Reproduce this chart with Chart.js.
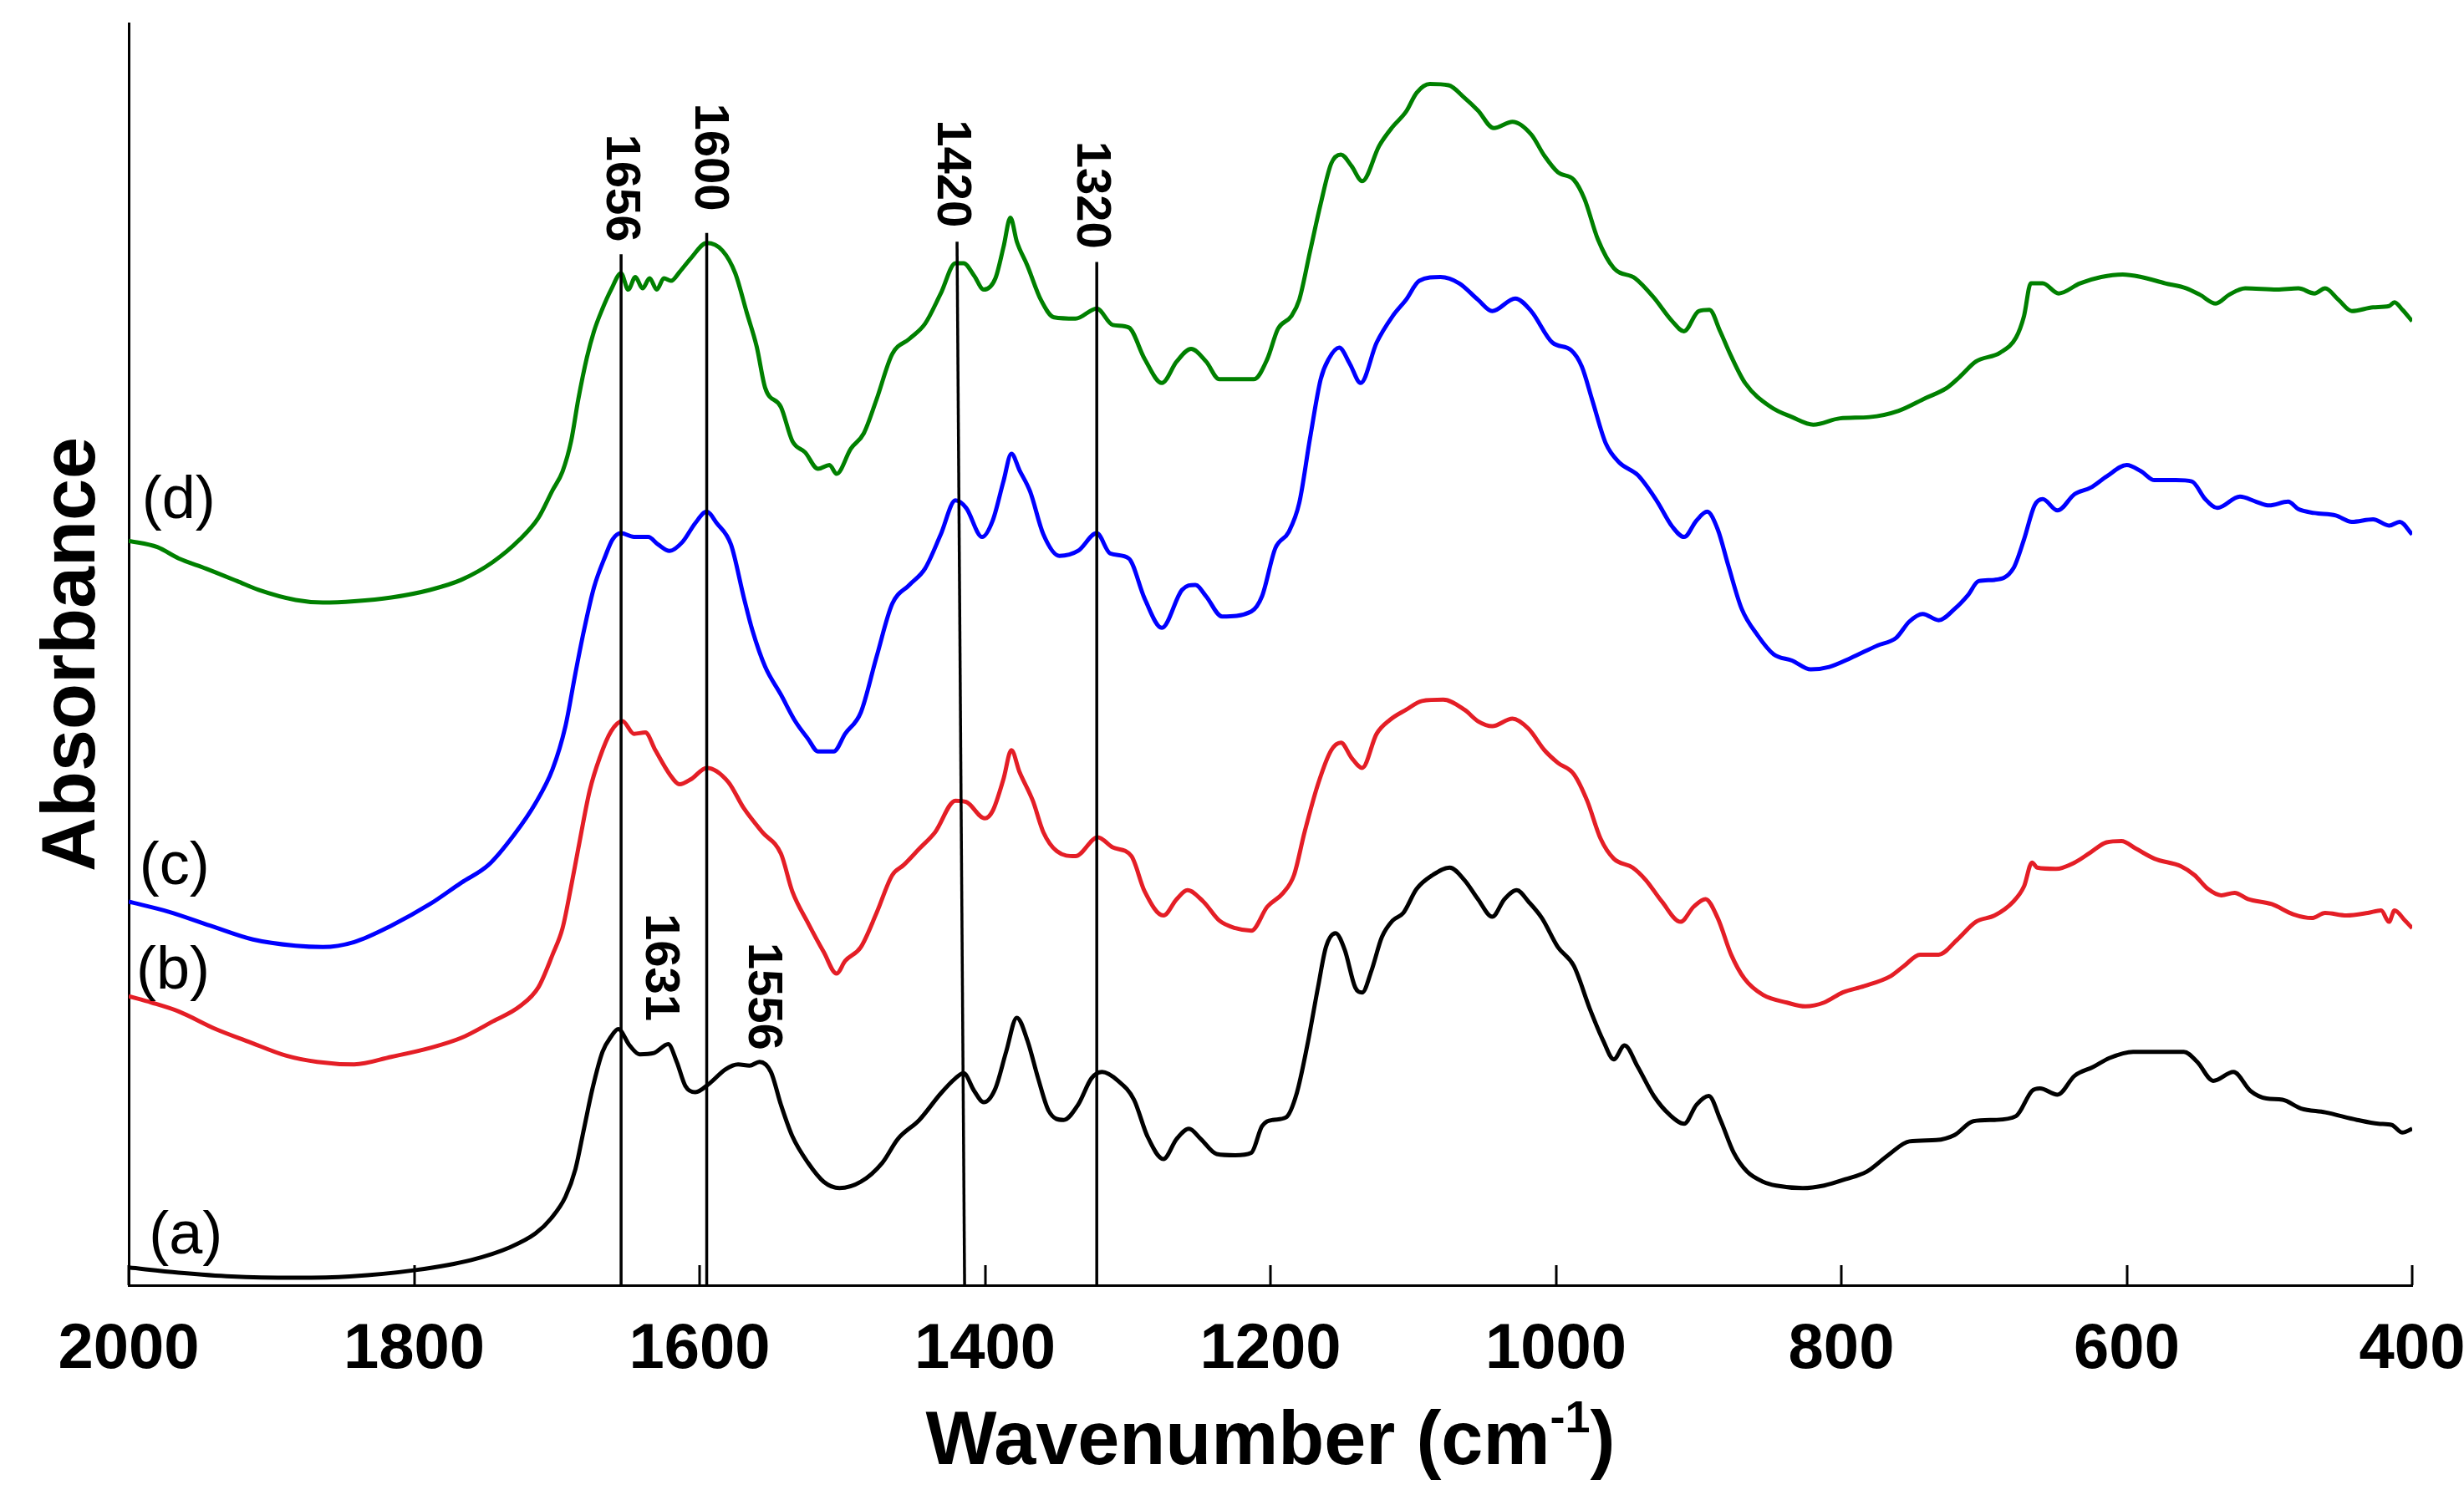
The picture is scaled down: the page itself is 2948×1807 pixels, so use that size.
<!DOCTYPE html>
<html>
<head>
<meta charset="utf-8">
<title>FTIR spectra (a)-(d)</title>
<script src="https://cdn.jsdelivr.net/npm/chart.js@4.4.1/dist/chart.umd.min.js"></script>
<style>
html,body{margin:0;padding:0;background:#fff;}
canvas{display:block;}
</style>
</head>
<body>
<canvas id="chart" width="2948" height="1807"></canvas>
<script>
const FONT = "'Liberation Sans', Arial, Helvetica, sans-serif";

// x axis ticks (wavenumber, cm-1)
const xTicks = [400, 600, 800, 1000, 1200, 1400, 1600, 1800, 2000];

// spectrum (a) - black
const wnA = [2000,1965,1928,1883,1845,1799,1760,1733,1715,1704,1694,1687,1681,1675,1668,1662,1657,1649,1642,1632,1622,1616,1610,1603,1593,1582,1573,1565,1558,1550,1543,1535,1524,1513,1502,1487,1472,1461,1446,1431,1420.7,1415,1407.6,1400.9,1392.7,1385.2,1377.7,1370.3,1362.8,1355.3,1344.9,1334.8,1325.4,1318,1306.8,1295.6,1286.2,1275,1265.7,1257.1,1248.9,1237.7,1224.6,1213.4,1205.9,1198.4,1189.1,1181.6,1174.2,1166.7,1161.1,1154.4,1148,1140.6,1135.7,1129.3,1121.9,1114.4,1106.9,1097.6,1086.4,1074.4,1064,1054.6,1044.6,1036,1027.4,1019.2,1009.8,998.6,987.4,976.2,966.9,959.4,951.9,942.6,931.4,920.2,910.1,901.5,892.9,884.7,875.4,866,854.8,845.7,827,812.1,797.1,782.2,767.3,752.3,733.6,720.6,707.5,692.6,677.6,666.4,660.8,648.5,636.5,623.5,612.3,595.5,576.8,560,550.6,539.4,525.2,513.3,502.1,490.9,477.8,460.9,438.6,423.7,414.3,406.8,400];
const absA = [0.014,0.010,0.007,0.006,0.007,0.012,0.020,0.030,0.041,0.053,0.070,0.092,0.124,0.156,0.185,0.197,0.203,0.190,0.183,0.184,0.191,0.177,0.158,0.153,0.160,0.171,0.175,0.174,0.177,0.169,0.143,0.118,0.097,0.082,0.077,0.082,0.097,0.116,0.131,0.152,0.164,0.168,0.154,0.145,0.156,0.185,0.212,0.194,0.164,0.138,0.131,0.143,0.164,0.169,0.162,0.147,0.118,0.100,0.116,0.124,0.116,0.104,0.103,0.105,0.126,0.131,0.133,0.152,0.190,0.236,0.268,0.279,0.266,0.236,0.232,0.249,0.276,0.289,0.295,0.314,0.325,0.331,0.321,0.306,0.292,0.306,0.313,0.304,0.291,0.268,0.253,0.219,0.194,0.179,0.190,0.173,0.150,0.135,0.128,0.143,0.150,0.131,0.105,0.090,0.082,0.079,0.077,0.079,0.084,0.090,0.103,0.114,0.115,0.119,0.130,0.131,0.134,0.154,0.156,0.151,0.166,0.173,0.180,0.185,0.185,0.185,0.177,0.162,0.169,0.154,0.148,0.147,0.140,0.137,0.131,0.128,0.127,0.121,0.124];

// spectrum (b) - red
const wnB = [2000,1984,1965,1939,1916,1890,1868,1842,1816,1789,1767,1745,1726,1713,1703,1696,1690,1685,1677,1670,1662,1654,1646,1638,1631,1621,1614,1606,1595,1580,1569,1556,1543,1535,1524,1513,1504,1498,1487,1476,1465,1457,1446,1435,1420.7,1413.2,1400.1,1394.6,1387.1,1381.5,1375.9,1366.5,1359.1,1349.7,1336.6,1321,1310.5,1297.4,1288.1,1275,1265.7,1258.2,1247,1235.8,1224.6,1213.4,1202.2,1191,1183.5,1176.1,1166.7,1157.4,1150.6,1143.2,1135.7,1125.6,1116.3,1105,1093.8,1078.9,1064,1054.6,1044.6,1030.4,1019.2,1008,998.6,987.4,978.1,968.7,959.4,946.2,936.9,925.7,912.7,903.4,895.2,886.6,877.2,867.9,854.8,838.2,825.2,812.1,799,784.1,765.4,756.1,744.9,731.8,718.7,705.7,692.6,679.5,672,666.4,662.7,649.6,636.5,625.4,614.1,603.7,593.6,580.5,561.9,552.5,543.1,533.8,524.4,515.1,498.4,483.4,470.3,461,446,431.1,421.8,416.2,412.4,405.1,400];
const absB = [0.229,0.224,0.217,0.203,0.193,0.182,0.177,0.175,0.181,0.188,0.196,0.209,0.221,0.236,0.262,0.283,0.316,0.346,0.392,0.418,0.439,0.447,0.437,0.438,0.424,0.405,0.397,0.401,0.410,0.399,0.378,0.359,0.342,0.312,0.287,0.264,0.247,0.257,0.268,0.295,0.325,0.333,0.346,0.359,0.384,0.383,0.370,0.376,0.401,0.424,0.407,0.384,0.359,0.344,0.340,0.355,0.347,0.340,0.312,0.293,0.306,0.313,0.304,0.289,0.283,0.281,0.300,0.311,0.325,0.359,0.397,0.424,0.430,0.418,0.410,0.437,0.448,0.456,0.463,0.464,0.456,0.447,0.443,0.449,0.441,0.424,0.414,0.405,0.384,0.354,0.338,0.331,0.321,0.304,0.288,0.300,0.306,0.291,0.262,0.243,0.230,0.224,0.221,0.224,0.232,0.237,0.245,0.253,0.262,0.262,0.274,0.288,0.293,0.304,0.316,0.335,0.331,0.330,0.335,0.343,0.351,0.352,0.346,0.338,0.332,0.325,0.314,0.309,0.311,0.306,0.302,0.294,0.291,0.295,0.293,0.295,0.297,0.288,0.297,0.289,0.283];

// spectrum (c) - blue
const wnC = [2000,1972,1943,1913,1883,1864,1842,1816,1789,1767,1748,1730,1715,1703,1694,1687,1681,1674,1666,1661,1655,1646,1636,1629,1621,1612,1603,1595,1588,1578,1569,1563,1554,1543,1533,1524,1517,1506,1498,1487,1476,1465,1453,1442,1431,1420.7,1413.2,1402,1394.6,1387.1,1381.5,1375.9,1368.4,1359.1,1347.9,1334.8,1321.7,1312.4,1299.3,1288.1,1276.1,1262,1252.6,1245.1,1233.9,1213.4,1205.9,1196.6,1187.2,1179.8,1172.3,1164.8,1159.2,1151.8,1144.3,1136.8,1125.6,1114.4,1105,1095.7,1080.8,1067.7,1054.6,1044.6,1028.5,1017.3,1002.4,989.3,981.8,974.4,965,955.6,942.6,929.5,918.3,910.1,901.5,894,886.6,879.1,869.8,858.6,847.4,834.5,821.4,808.4,793.4,774.7,761.6,752.3,743,731.8,720.6,711.2,703.8,692.6,679.5,672,664.6,658.9,648.5,636.5,625.4,614.1,600,589.9,580.5,565.6,554.4,545,536.5,520.7,509.5,500.2,486.9,479.7,468.5,453.5,442.3,427.4,416.2,408.7,400];
const absC = [0.304,0.296,0.285,0.274,0.269,0.268,0.272,0.285,0.302,0.319,0.333,0.357,0.382,0.409,0.443,0.485,0.519,0.553,0.578,0.591,0.596,0.593,0.593,0.587,0.582,0.589,0.604,0.613,0.604,0.587,0.545,0.519,0.490,0.468,0.447,0.433,0.423,0.423,0.437,0.454,0.498,0.540,0.555,0.568,0.595,0.622,0.616,0.593,0.606,0.637,0.659,0.646,0.629,0.595,0.578,0.582,0.596,0.580,0.576,0.544,0.521,0.551,0.555,0.546,0.530,0.534,0.546,0.584,0.597,0.620,0.671,0.718,0.734,0.743,0.730,0.715,0.747,0.768,0.781,0.796,0.799,0.794,0.781,0.772,0.782,0.772,0.747,0.741,0.728,0.701,0.667,0.652,0.642,0.622,0.601,0.593,0.606,0.613,0.599,0.570,0.536,0.515,0.500,0.495,0.488,0.490,0.497,0.507,0.513,0.526,0.532,0.527,0.536,0.547,0.558,0.559,0.568,0.591,0.618,0.623,0.614,0.627,0.632,0.641,0.650,0.645,0.638,0.638,0.637,0.623,0.616,0.625,0.621,0.618,0.621,0.615,0.612,0.610,0.605,0.607,0.602,0.605,0.595];

// spectrum (d) - green
const wnD = [2000,1980,1965,1946,1924,1909,1883,1864,1842,1816,1789,1767,1745,1726,1713,1703,1696,1690,1685,1679,1674,1668,1662,1655,1650,1645,1640,1635,1630,1625,1620,1614,1606,1595,1584,1575,1567,1560,1554,1543,1535,1526,1517,1509,1504,1494,1485,1476,1465,1453,1442,1431,1420.7,1415,1407.6,1400.9,1392.7,1387,1382.2,1377.7,1370.3,1360.9,1351.6,1336.6,1321.7,1310.5,1299.3,1288.1,1276.1,1265.7,1255.6,1245.1,1235.8,1211.5,1202.2,1194.7,1185.4,1179.8,1172.3,1164.8,1157.4,1150.6,1143.2,1135.7,1123.8,1114.4,1105,1097.6,1088.3,1075.2,1064,1054.6,1043.5,1030.4,1017.3,1008,998.6,987.4,980,970.6,959.4,944.5,931.6,918.5,910.3,899.9,892.4,884.9,877.5,867.4,849.4,834.5,819.6,800.9,780.3,759.8,741.1,726.2,716.9,705.7,688.8,677.6,672,667.2,658.9,647.7,632.8,617.9,602.9,589.9,573,558.1,548.8,537.6,528.2,517,494.6,479.7,468.5,461,451.7,442.3,427.4,416.2,412.4,406.8,400];
const absD = [0.590,0.585,0.576,0.568,0.558,0.551,0.543,0.541,0.542,0.545,0.551,0.559,0.573,0.591,0.608,0.630,0.645,0.669,0.702,0.735,0.756,0.774,0.789,0.802,0.789,0.799,0.790,0.798,0.789,0.798,0.796,0.803,0.814,0.826,0.820,0.802,0.771,0.744,0.711,0.696,0.669,0.660,0.647,0.650,0.643,0.663,0.675,0.702,0.738,0.750,0.762,0.786,0.810,0.810,0.800,0.789,0.798,0.823,0.846,0.827,0.808,0.781,0.767,0.766,0.774,0.761,0.759,0.734,0.715,0.732,0.742,0.732,0.718,0.718,0.734,0.758,0.768,0.781,0.819,0.857,0.889,0.896,0.887,0.875,0.903,0.918,0.930,0.945,0.952,0.951,0.941,0.931,0.917,0.922,0.912,0.895,0.882,0.876,0.861,0.829,0.806,0.798,0.783,0.764,0.756,0.772,0.773,0.756,0.737,0.715,0.696,0.688,0.682,0.687,0.688,0.693,0.703,0.711,0.720,0.732,0.739,0.751,0.768,0.794,0.794,0.786,0.794,0.799,0.801,0.799,0.794,0.790,0.785,0.778,0.785,0.790,0.789,0.790,0.786,0.790,0.781,0.772,0.775,0.776,0.779,0.773,0.764];

// marker lines (top end / bottom end) and their labels
const markWnTop = [1655, 1595, 1419.6, 1321.7];
const markWnBottom = [1655, 1595, 1414.3, 1321.7];
const markAbsTop = [0.817, 0.834, 0.827, 0.811];
const markText = ['1656', '1600', '1420', '1320'];
const markTextWn = [1655.5, 1593.5, 1424, 1326];
const markTextAbs = [0.8695, 0.894, 0.881, 0.864];

// band labels on spectrum (a)
const bandText = ['1631', '1556'];
const bandWn = [1628, 1556];
const bandAbs = [0.252, 0.229];

// curve names
const curveNames = ['(a)', '(b)', '(c)', '(d)'];
const curveNameWn = [1960, 1969, 1968, 1965];
const curveNameAbs = [0.038, 0.248, 0.331, 0.621];

function pts(xs, ys){ return xs.map((x,i)=>({x:x, y:ys[i]})); }

const spectrum = (data, color) => ({
  data: data, borderColor: color, borderWidth: 5, pointRadius: 0,
  cubicInterpolationMode: 'monotone', borderJoinStyle: 'round', fill: false
});

const datasets = markWnTop.map((w,i)=>({
  data: [{x:w, y:markAbsTop[i]}, {x:markWnBottom[i], y:0}],
  borderColor: '#000', borderWidth: 3.5, pointRadius: 0, tension: 0, fill: false
}));
datasets.push(
  spectrum(pts(wnA, absA), '#000000'),
  spectrum(pts(wnB, absB), '#E41E26'),
  spectrum(pts(wnC, absC), '#0000FF'),
  spectrum(pts(wnD, absD), '#008000')
);

const annotate = {
  id: 'annotate',
  afterDatasetsDraw(chart){
    const {ctx, chartArea} = chart;
    const x = chart.scales.x, y = chart.scales.y;
    ctx.save();
    // inward tick marks on the bottom axis
    ctx.strokeStyle = '#000'; ctx.lineWidth = 3;
    xTicks.forEach(v=>{
      const px = Math.round(x.getPixelForValue(v));
      ctx.beginPath(); ctx.moveTo(px, chartArea.bottom); ctx.lineTo(px, chartArea.bottom - 24); ctx.stroke();
    });
    ctx.fillStyle = '#000';
    ctx.textAlign = 'center'; ctx.textBaseline = 'middle';
    const vert = (t, wn, ab) => {
      ctx.save();
      ctx.translate(x.getPixelForValue(wn), y.getPixelForValue(ab));
      ctx.rotate(Math.PI/2);
      ctx.fillText(t, 0, 0);
      ctx.restore();
    };
    ctx.font = 'bold 58px ' + FONT;
    markText.forEach((t,i)=>vert(t, markTextWn[i], markTextAbs[i]));
    bandText.forEach((t,i)=>vert(t, bandWn[i], bandAbs[i]));
    ctx.font = '72px ' + FONT;
    curveNames.forEach((t,i)=>ctx.fillText(t, x.getPixelForValue(curveNameWn[i]), y.getPixelForValue(curveNameAbs[i])));
    // x axis title with superscript
    const main = 'Wavenumber (cm', sup = '-1', close = ')';
    ctx.textAlign = 'left'; ctx.textBaseline = 'alphabetic';
    ctx.font = 'bold 90px ' + FONT;
    const w1 = ctx.measureText(main).width, w3 = ctx.measureText(close).width;
    ctx.font = 'bold 54px ' + FONT;
    const w2 = ctx.measureText(sup).width;
    let sx = (chartArea.left + chartArea.right)/2 - (w1 + w2 + w3)/2;
    const base = chartArea.bottom + 214;
    ctx.font = 'bold 90px ' + FONT; ctx.fillText(main, sx, base); sx += w1;
    ctx.font = 'bold 54px ' + FONT; ctx.fillText(sup, sx, base - 38); sx += w2;
    ctx.font = 'bold 90px ' + FONT; ctx.fillText(close, sx, base);
    ctx.restore();
  }
};

new Chart(document.getElementById('chart'), {
  type: 'line',
  data: { datasets: datasets },
  options: {
    responsive: false, animation: false,
    layout: { padding: { left: 34, right: 62, top: 28, bottom: 0 } },
    plugins: { legend: { display: false }, tooltip: { enabled: false } },
    scales: {
      x: {
        type: 'linear', reverse: true, min: 400, max: 2000,
        afterBuildTicks: s => { s.ticks = xTicks.map(v=>({value:v})); },
        ticks: { font: { family: FONT, size: 76, weight: 'bold' }, color: '#000', padding: 32, maxRotation: 0, autoSkip: false,
                 callback: v => String(v) },
        grid: { display: false, drawTicks: false },
        border: { display: true, color: '#000', width: 3 },
        afterFit: s => { s.height = 269; s.paddingLeft = 0; s.paddingRight = 0; }
      },
      y: {
        min: 0, max: 1,
        ticks: { display: false },
        grid: { display: false, drawTicks: false },
        border: { display: true, color: '#000', width: 3 },
        title: { display: true, text: 'Absorbance', color: '#000', font: { family: FONT, size: 90, weight: 'bold' }, padding: { top: 0, bottom: 12 } },
        afterFit: s => { s.width = 120; }
      }
    }
  },
  plugins: [annotate]
});
</script>
</body>
</html>
